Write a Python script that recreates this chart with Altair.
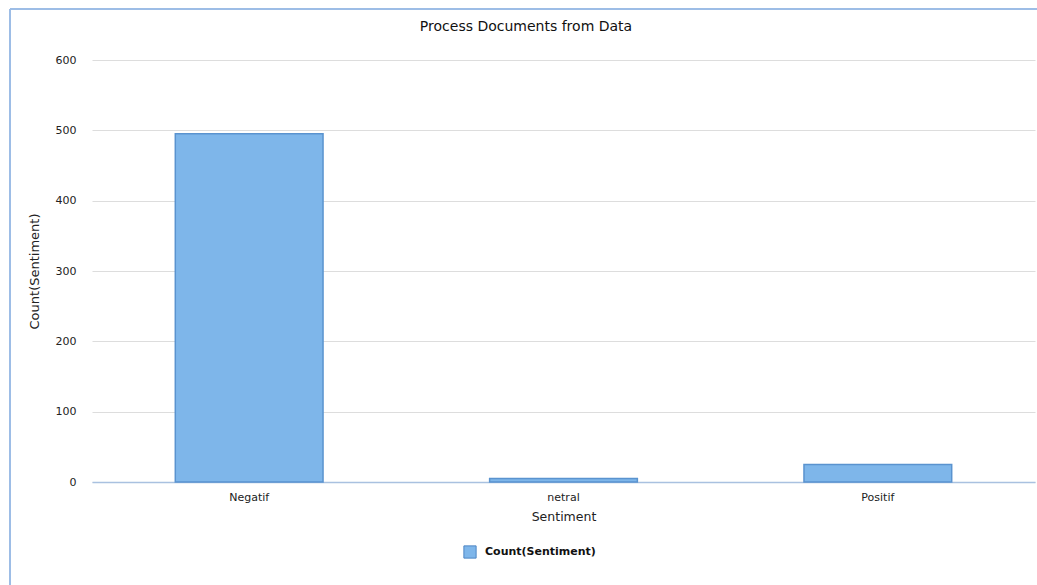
import altair as alt
import pandas as pd

categories = ["Negatif", "netral", "Positif"]
counts = [495, 5, 25]
series_name = "Count(Sentiment)"

df = pd.DataFrame({"Sentiment": categories, "Count": counts, "series": [series_name] * 3})

FONT = "DejaVu Sans"

bars = alt.Chart(df).mark_bar(stroke="#5A93CF", strokeWidth=1.5).encode(
    x=alt.X("Sentiment:N", sort=categories,
            scale=alt.Scale(paddingInner=0.53, paddingOuter=0.265),
            axis=alt.Axis(title="Sentiment", labelAngle=0, labelFont=FONT, labelFontSize=11,
                          labelColor="#222222", titleFont=FONT, titleFontSize=12.5,
                          titleFontWeight="normal", titleColor="#222222",
                          domainColor="#A9C1E0", domainWidth=1.5, ticks=False,
                          labelPadding=9, titlePadding=8, grid=False)),
    y=alt.Y("Count:Q", scale=alt.Scale(domain=[0, 600], nice=False),
            axis=alt.Axis(title="Count(Sentiment)", values=[0, 100, 200, 300, 400, 500, 600],
                          labelFont=FONT, labelFontSize=11, labelColor="#222222",
                          titleFont=FONT, titleFontSize=13, titleFontWeight="normal",
                          titleColor="#222222", domain=False, ticks=False, labelPadding=16,
                          titlePadding=14, gridColor="#DDDDDD", gridWidth=1)),
    color=alt.Color("series:N", scale=alt.Scale(range=["#7EB6EA"]),
                    legend=alt.Legend(title=None, orient="none", legendX=371, legendY=485,
                                      symbolType="square", symbolSize=150,
                                      symbolStrokeColor="#4E86C4", symbolStrokeWidth=1,
                                      labelOffset=8,
                                      labelFont=FONT, labelFontSize=11, labelFontWeight="bold",
                                      labelColor="#111111")),
)

border_top = alt.Chart(df).mark_rule(color="#9DBDE6", strokeWidth=2).encode(
    x=alt.value(-82), x2=alt.value(950), y=alt.value(-51))
border_left = alt.Chart(df).mark_rule(color="#9DBDE6", strokeWidth=2).encode(
    x=alt.value(-82), y=alt.value(-51), y2=alt.value(530))

chart = alt.layer(bars, border_top, border_left).properties(
    width=943, height=422,
    background="white",
    title=alt.Title("Process Documents from Data", font=FONT, fontSize=14,
                    fontWeight="normal", color="#111111", offset=-26,
                    anchor="middle", frame="bounds"),
    autosize=alt.AutoSizeParams(type="none"),
    padding={"left": 92, "top": 60, "right": 2, "bottom": 103},
).configure_view(strokeOpacity=0, strokeWidth=0)

chart.save("out.html", embed_options={"renderer": "svg", "actions": False})
